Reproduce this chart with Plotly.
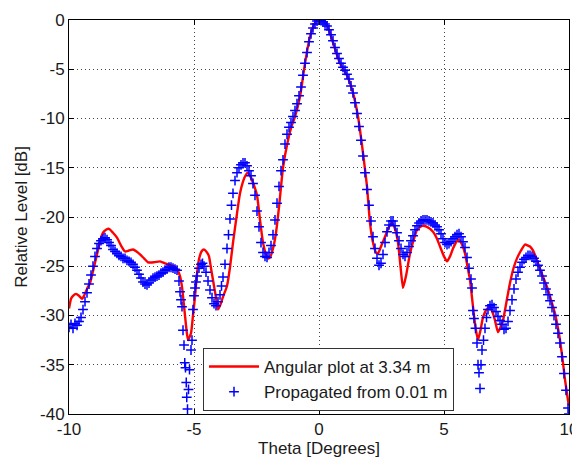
import plotly.graph_objects as go

red_theta = [-10.00, -9.92, -9.84, -9.72, -9.60, -9.48, -9.40, -9.28, -9.16, -9.04, -8.88, -8.76, -8.64, -8.52,
             -8.40, -8.24, -8.08, -7.92, -7.76, -7.60, -7.44, -7.30, -7.16, -7.00, -6.84, -6.60, -6.36, -6.16,
             -5.96, -5.80, -5.68, -5.56, -5.48, -5.40, -5.32, -5.24, -5.12, -5.04, -4.96, -4.88, -4.80, -4.70,
             -4.60, -4.48, -4.40, -4.32, -4.24, -4.12, -4.04, -3.96, -3.84, -3.68, -3.56, -3.44, -3.30, -3.16,
             -3.04, -2.92, -2.84, -2.72, -2.60, -2.48, -2.36, -2.24, -2.12, -2.04, -1.96, -1.84, -1.72, -1.60,
             -1.44, -1.24, -1.10, -0.96, -0.76, -0.56, -0.36, -0.16, 0.00, 0.16, 0.32, 0.56, 0.84, 1.12, 1.36,
             1.56, 1.76, 1.92, 2.04, 2.16, 2.28, 2.36, 2.48, 2.64, 2.80, 2.92, 3.04, 3.16, 3.26, 3.36, 3.48,
             3.64, 3.80, 3.92, 4.12, 4.32, 4.56, 4.72, 4.84, 5.00, 5.12, 5.24, 5.36, 5.50, 5.60, 5.72, 5.84,
             5.96, 6.04, 6.16, 6.26, 6.36, 6.46, 6.56, 6.70, 6.84, 6.96, 7.04, 7.16, 7.26, 7.36, 7.50, 7.64,
             7.78, 7.92, 8.08, 8.24, 8.44, 8.60, 8.72, 8.92, 9.12, 9.28, 9.44, 9.56, 9.64, 9.76, 9.84, 9.96, 10.0]
red_db = [-29.3, -28.3, -28.0, -27.8, -28.0, -28.3, -28.0, -27.3, -26.7, -25.5, -23.8, -22.5, -21.6, -21.3,
          -21.2, -21.6, -22.1, -22.9, -23.5, -23.4, -23.3, -23.5, -23.8, -24.2, -24.6, -24.6, -24.5, -24.7,
          -24.9, -25.0, -25.3, -26.0, -27.1, -29.0, -31.0, -32.5, -31.8, -30.0, -28.1, -25.8, -24.3, -23.5,
          -23.3, -23.6, -24.0, -25.2, -26.4, -28.2, -29.4, -29.0, -28.1, -27.0, -25.1, -22.6, -20.0, -17.6,
          -16.4, -15.7, -15.5, -16.0, -16.8, -17.8, -20.3, -22.6, -23.8, -24.2, -24.1, -23.2, -21.6, -19.0,
          -15.0, -12.2, -10.8, -9.8, -7.8, -4.4, -1.7, -0.3, 0.0, -0.1, -0.5, -2.3, -4.4, -5.6, -7.4,
          -9.8, -13.5, -16.9, -20.6, -22.6, -23.6, -23.7, -23.0, -22.0, -21.0, -20.6, -21.2, -22.6, -25.0, -27.2, -26.0,
          -23.7, -22.2, -21.3, -20.9, -21.0, -21.5, -22.2, -23.0, -24.0, -24.5, -24.0, -23.2, -22.5, -22.3, -22.8, -23.7,
          -25.3, -26.4, -29.1, -31.2, -32.5, -31.5, -30.2, -29.4, -29.1, -29.8, -30.5, -31.7, -31.2, -30.5, -28.6, -26.7,
          -25.2, -24.2, -23.4, -22.8, -23.0, -23.6, -24.4, -25.8, -27.1, -28.4, -29.8, -31.3, -32.5, -34.8, -36.5, -38.6, -39.2]

blue_theta = [-10.00, -9.92, -9.84, -9.76, -9.68, -9.60, -9.52, -9.44, -9.36, -9.28, -9.20, -9.12, -9.04, -8.96,
              -8.88, -8.80, -8.72, -8.64, -8.56, -8.48, -8.40, -8.32, -8.24, -8.16, -8.08, -8.00, -7.92, -7.84,
              -7.76, -7.68, -7.60, -7.52, -7.44, -7.36, -7.28, -7.20, -7.12, -7.04, -6.96, -6.88, -6.80, -6.72,
              -6.64, -6.56, -6.48, -6.40, -6.32, -6.24, -6.16, -6.08, -6.00, -5.92, -5.84, -5.76, -5.68, -5.60,
              -5.56, -5.52, -5.48, -5.44, -5.40, -5.37, -5.34, -5.31, -5.29, -5.26, -5.22, -5.18, -5.12, -5.08,
              -5.04, -5.00, -4.96, -4.92, -4.88, -4.80, -4.72, -4.66, -4.60, -4.52, -4.44, -4.36, -4.28, -4.20,
              -4.12, -4.04, -3.96, -3.90, -3.84, -3.76, -3.68, -3.62, -3.56, -3.50, -3.44, -3.36, -3.28, -3.20,
              -3.12, -3.04, -2.96, -2.88, -2.80, -2.72, -2.64, -2.56, -2.48, -2.40, -2.32, -2.24, -2.16, -2.08,
              -2.00, -1.92, -1.84, -1.76, -1.68, -1.60, -1.52, -1.44, -1.36, -1.28, -1.20, -1.12, -1.04, -0.96,
              -0.88, -0.80, -0.72, -0.64, -0.56, -0.48, -0.40, -0.32, -0.24, -0.16, -0.08, 0.00, 0.08, 0.16,
              0.24, 0.32, 0.40, 0.48, 0.56, 0.64, 0.72, 0.80, 0.88, 0.96, 1.04, 1.12, 1.20, 1.28, 1.36, 1.44,
              1.52, 1.60, 1.68, 1.76, 1.84, 1.92, 2.00, 2.08, 2.16, 2.24, 2.32, 2.40, 2.48, 2.56, 2.64, 2.72,
              2.80, 2.88, 2.96, 3.04, 3.12, 3.20, 3.28, 3.36, 3.44, 3.52, 3.60, 3.68, 3.76, 3.84, 3.92, 4.00,
              4.08, 4.16, 4.24, 4.32, 4.40, 4.48, 4.56, 4.64, 4.72, 4.80, 4.88, 4.96, 5.04, 5.12, 5.20, 5.28,
              5.36, 5.44, 5.52, 5.60, 5.68, 5.76, 5.84, 5.92, 6.00, 6.08, 6.12, 6.16, 6.20, 6.26, 6.32, 6.36,
              6.40, 6.44, 6.48, 6.52, 6.58, 6.64, 6.70, 6.76, 6.84, 6.92, 7.00, 7.08, 7.16, 7.24, 7.32, 7.40,
              7.48, 7.56, 7.64, 7.72, 7.80, 7.88, 7.96, 8.04, 8.12, 8.20, 8.28, 8.36, 8.44, 8.52, 8.60, 8.68,
              8.76, 8.84, 8.92, 9.00, 9.08, 9.16, 9.24, 9.32, 9.40, 9.48, 9.56, 9.64, 9.72, 9.80, 9.88, 9.96, 10.0]
blue_db = [-31.2, -30.9, -31.3, -30.8, -31.0, -30.6, -30.2, -29.4, -28.6, -27.7, -26.8, -25.9, -25.0, -24.0,
           -23.2, -22.7, -22.4, -22.2, -22.1, -22.3, -22.6, -22.9, -23.3, -23.5, -23.7, -23.9, -24.0, -24.2,
           -24.2, -24.4, -24.5, -24.6, -24.8, -25.1, -25.4, -25.8, -26.2, -26.6, -26.8, -26.9, -26.7, -26.4,
           -26.2, -26.1, -26.0, -25.9, -25.7, -25.6, -25.4, -25.3, -25.1, -25.1, -25.2, -25.3, -25.4, -26.5,
           -27.6, -28.4, -29.1, -31.5, -33.0, -34.8, -35.3, -36.8, -38.3, -39.5, -37.5, -35.5, -33.5, -32.5,
           -29.4, -28.0, -27.2, -26.6, -26.0, -25.2, -24.8, -24.7, -25.0, -25.6, -26.5, -27.4, -28.2, -28.8,
           -29.0, -28.6, -27.9, -27.0, -26.1, -24.8, -23.2, -21.8, -20.2, -18.8, -17.6, -16.3, -15.5, -15.0,
           -14.7, -14.5, -14.5, -14.8, -15.3, -15.8, -16.6, -17.8, -19.4, -21.0, -22.6, -23.6, -24.0, -24.1,
           -23.6, -22.9, -21.8, -20.3, -18.6, -16.9, -15.3, -14.2, -12.6, -11.6, -10.9, -10.4, -9.8, -9.2,
           -8.5, -7.7, -6.8, -5.6, -4.4, -3.3, -2.2, -1.4, -0.8, -0.4, -0.1, 0.0, -0.05, -0.2,
           -0.4, -0.6, -1.0, -1.5, -2.1, -2.8, -3.4, -3.9, -4.4, -4.8, -5.1, -5.5, -6.0, -6.7, -7.4, -8.4,
           -9.5, -10.8, -12.2, -13.8, -15.5, -17.2, -18.8, -20.4, -22.0, -23.2, -24.2, -24.9, -24.7, -23.8, -22.6, -21.5,
           -20.8, -20.4, -20.4, -20.9, -21.6, -22.4, -23.2, -23.8, -24.0, -23.6, -23.0, -22.4, -21.9, -21.3, -20.9, -20.6,
           -20.4, -20.3, -20.3, -20.3, -20.4, -20.5, -20.6, -20.8, -21.0, -21.3, -21.7, -22.2, -22.6, -22.8, -22.7, -22.5,
           -22.2, -22.0, -21.8, -21.7, -22.0, -22.5, -23.1, -24.1, -25.2, -26.3, -27.2, -29.5, -30.3, -31.3, -32.8, -35.0,
           -35.8, -37.4, -35.0, -33.5, -32.5, -31.3, -30.2, -29.4, -29.0, -28.9, -29.2, -29.6, -30.1, -30.5, -30.9, -31.4,
           -31.3, -30.6, -29.5, -28.4, -27.3, -26.3, -25.6, -25.1, -24.6, -24.3, -24.1, -23.9, -23.9, -24.0, -24.2, -24.5,
           -24.9, -25.4, -26.0, -26.7, -27.3, -27.9, -28.5, -29.2, -30.0, -30.9, -31.8, -32.8, -34.2, -35.9, -37.6, -39.4, -40.0]

x_ticks = [-10, -5, 0, 5, 10]
y_ticks = [0, -5, -10, -15, -20, -25, -30, -35, -40]

FONT = "Liberation Sans, Arial, sans-serif"
TXT = "#1a1a1a"

fig = go.Figure()
fig.add_trace(go.Scatter(
    x=red_theta, y=red_db, mode="lines", name="Angular plot at 3.34 m",
    line=dict(color="#ff0000", width=2.4, shape="spline", smoothing=0.5),
))
fig.add_trace(go.Scatter(
    x=blue_theta, y=blue_db, mode="markers", name="Propagated from 0.01 m",
    marker=dict(symbol="cross-thin", size=7, line=dict(color="#0000ff", width=1.5), color="#0000ff"),
))

axis_common = dict(
    showline=True, linecolor="black", linewidth=1, mirror="ticks",
    ticks="inside", ticklen=5, tickcolor="black",
    showgrid=True, gridcolor="#444444", griddash="1px,3px", gridwidth=1,
    zeroline=False, tickfont=dict(family=FONT, size=17, color=TXT),
    automargin=False,
)

fig.update_xaxes(range=[-10, 10], tickvals=x_ticks, ticktext=[str(v) for v in x_ticks],
                 title=dict(text="Theta [Degrees]", font=dict(family=FONT, size=17, color=TXT), standoff=1),
                 **axis_common)
fig.update_yaxes(range=[-40, 0], tickvals=y_ticks, ticktext=[str(v) for v in y_ticks],
                 title=dict(text="Relative Level [dB]", font=dict(family=FONT, size=17, color=TXT), standoff=8),
                 **axis_common)

# The page body has an 8px default margin, so the figure is sized 8px smaller
fig.update_layout(
    width=572, height=451,
    margin=dict(l=61, r=11, t=12, b=45),
    plot_bgcolor="white", paper_bgcolor="white",
    showlegend=True,
    legend=dict(x=0.268, y=0.1675, xanchor="left", yanchor="top",
                bgcolor="white", bordercolor="#333333", borderwidth=1,
                font=dict(family=FONT, size=17, color=TXT),
                itemwidth=50, tracegroupgap=0),
)

fig.write_html("out.html")
